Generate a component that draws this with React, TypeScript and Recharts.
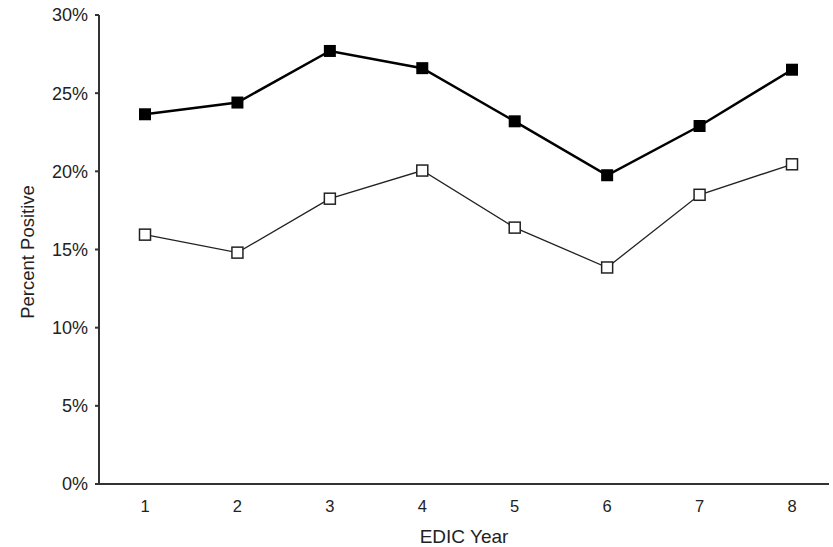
import { LineChart, Line, XAxis, YAxis } from 'recharts';

const years = ['1', '2', '3', '4', '5', '6', '7', '8'];
const filledSeries = [23.65, 24.4, 27.7, 26.6, 23.2, 19.75, 22.9, 26.5];
const openSeries = [15.95, 14.8, 18.25, 20.05, 16.4, 13.85, 18.5, 20.45];
const yTicks = [0, 5, 10, 15, 20, 25, 30];

const data = years.map((year, i) => ({
  year,
  filled: filledSeries[i],
  open: openSeries[i],
}));

const FONT = '"Liberation Sans", Arial, sans-serif';

function FilledSquare(props: any) {
  const { cx, cy, index } = props;
  if (cx == null || cy == null) return null;
  return <rect key={`f-${index}`} x={cx - 6} y={cy - 6} width={12} height={12} fill="#000" />;
}

function OpenSquare(props: any) {
  const { cx, cy, index } = props;
  if (cx == null || cy == null) return null;
  return (
    <rect
      key={`o-${index}`}
      x={cx - 5.5}
      y={cy - 5.5}
      width={11}
      height={11}
      fill="#fff"
      stroke="#222"
      strokeWidth={1.5}
    />
  );
}

function YLabel() {
  return (
    <text
      x={27}
      y={252}
      transform="rotate(-90, 27, 252)"
      textAnchor="middle"
      dominantBaseline="central"
      fontSize={18.5}
      fontFamily={FONT}
      fill="#222"
    >
      Percent Positive
    </text>
  );
}

export default function App() {
  return (
    <div style={{ position: 'absolute', left: 0, top: 0, width: 833, height: 547, background: '#fff' }}>
      <LineChart width={833} height={547} data={data} margin={{ top: 15, right: 4, bottom: 0, left: 0 }}>
        <XAxis
          dataKey="year"
          scale="point"
          padding={{ left: 46, right: 37 }}
          height={63}
          stroke="#333"
          strokeWidth={2}
          tickLine={false}
          tickSize={0}
          tickMargin={16}
          tick={{ fill: '#222', fontSize: 16.5, fontFamily: FONT }}
          label={{ value: 'EDIC Year', position: 'insideBottom', offset: 4, fill: '#222', fontSize: 19, fontFamily: FONT }}
        />
        <YAxis
          domain={[0, 30]}
          ticks={yTicks}
          width={99}
          stroke="#333"
          strokeWidth={2}
          tickSize={4}
          tickMargin={7}
          tickFormatter={(v: number) => `${v}%`}
          tick={{ fill: '#222', fontSize: 18, fontFamily: FONT }}
          label={<YLabel />}
        />
        <Line
          dataKey="filled"
          stroke="#000"
          strokeWidth={2.5}
          dot={FilledSquare}
          activeDot={false}
          isAnimationActive={false}
        />
        <Line
          dataKey="open"
          stroke="#222"
          strokeWidth={1.3}
          dot={OpenSquare}
          activeDot={false}
          isAnimationActive={false}
        />
      </LineChart>
    </div>
  );
}
